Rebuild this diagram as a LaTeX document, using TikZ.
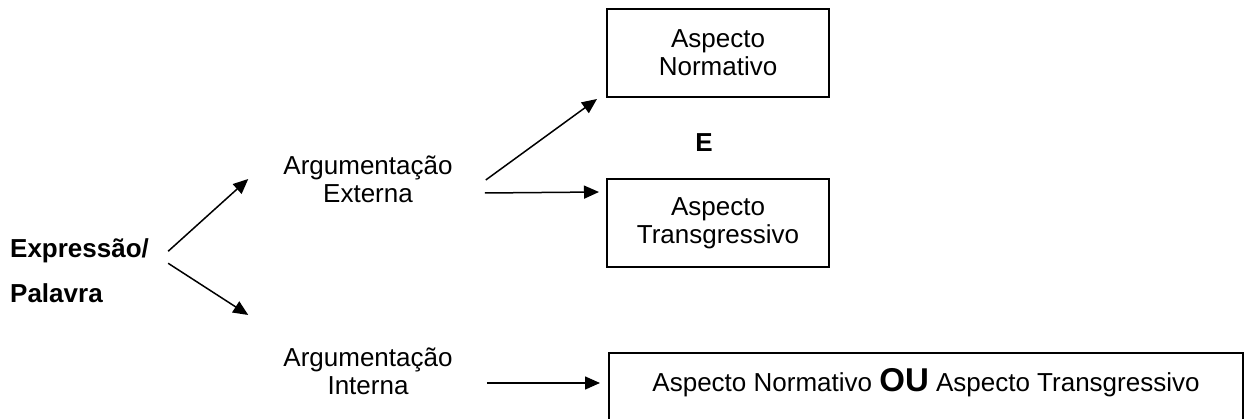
\documentclass[tikz,border=0pt]{standalone}
\usepackage{fontspec}
\setmainfont{Liberation Sans}
\usetikzlibrary{arrows.meta,positioning}
\tikzset{
  txt/.style={font=\fontsize{26}{28}\selectfont, inner sep=0pt, align=center},
  negrito/.style={font=\fontsize{26}{28}\selectfont\bfseries, inner sep=0pt},
  caixa/.style={txt, draw, line width=2pt, minimum width=222pt, minimum height=88pt},
  seta/.style={line width=1.5pt, -{Triangle[length=15pt,width=13pt]}},
}
\begin{document}
\begin{tikzpicture}[x=1pt,y=-1pt]
  \useasboundingbox (0,0) rectangle (1244,419);
  %textos
    \node[negrito, anchor=base west] (expr) at (10,258) {Expressão/};
    \node[negrito, anchor=base west] (pal) at (10,303) {Palavra};
    \node[txt] (argext) at (368,179) {Argumentação\\Externa};
    \node[txt] (argint) at (368,371) {Argumentação\\Interna};
  %caixas
    \node[caixa] (norm) at (718,53) {Aspecto\\Normativo};
    \node[caixa] (trans) at (718,223) {Aspecto\\Transgressivo};
    \node[negrito] (e) at (704,142.5) {E};
    \node[caixa, minimum width=634pt, minimum height=90pt, anchor=north west] (ambos) at (608,352) {};
    \node[txt] (ou) at ([yshift=-31pt]ambos.north) {Aspecto Normativo {\fontsize{33}{33}\selectfont\bfseries OU} Aspecto Transgressivo};
  %setas
    \draw[seta] ([xshift=19pt]expr.east) -- ([xshift=-35pt]argext.west);
    \draw[seta] ([xshift=19pt,yshift=-12pt]expr.east) -- ([xshift=-35pt,yshift=-136pt]argext.west);
    \draw[seta] ([xshift=33pt,yshift=-1pt]argext.east) -- ([xshift=-9pt,yshift=-1pt]norm.south west);
    \draw[seta] ([xshift=32pt,yshift=-14pt]argext.east) -- ([xshift=-7pt,yshift=-14pt]trans.north west);
    \draw[seta] ([xshift=34pt,yshift=-12pt]argint.east) -- ([xshift=-8pt,yshift=-31pt]ambos.north west);
\end{tikzpicture}
\end{document}
